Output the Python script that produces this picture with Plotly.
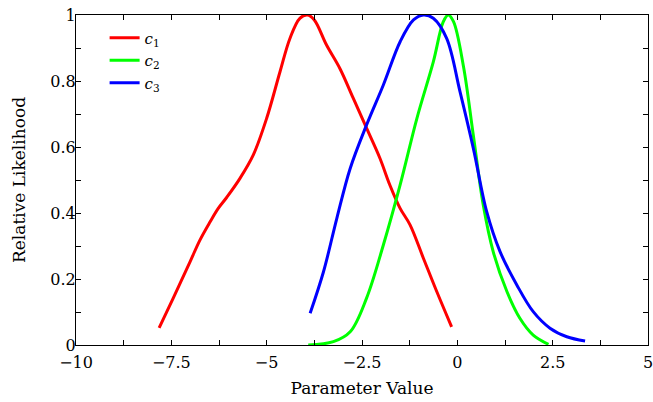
import plotly.graph_objects as go

c1_x = [-7.82, -7.45, -7.01, -6.75, -6.49, -6.27, -6.05, -5.70, -5.35, -5.00, -4.65, -4.39, -4.13, -3.93, -3.75, -3.43, -3.08, -2.73, -2.38, -2.03, -1.77, -1.50, -1.24, -0.89, -0.54, -0.15]
c1_y = [0.052, 0.142, 0.252, 0.318, 0.372, 0.414, 0.447, 0.505, 0.576, 0.687, 0.828, 0.929, 0.99, 1.0, 0.985, 0.909, 0.838, 0.748, 0.657, 0.566, 0.485, 0.414, 0.364, 0.263, 0.162, 0.055]

c2_x = [-3.91, -3.25, -2.81, -2.38, -1.94, -1.50, -1.06, -0.63, -0.37, -0.24, -0.10, 0.16, 0.42, 0.68, 0.94, 1.30, 1.64, 1.99, 2.39]
c2_y = [0.0, 0.010, 0.040, 0.142, 0.303, 0.485, 0.687, 0.858, 0.979, 1.0, 0.98, 0.845, 0.635, 0.424, 0.283, 0.162, 0.081, 0.030, 0.002]

c3_x = [-3.86, -3.51, -3.16, -2.81, -2.38, -1.94, -1.50, -1.15, -0.89, -0.63, -0.28, 0.07, 0.42, 0.77, 1.12, 1.56, 1.99, 2.43, 2.87, 3.35]
c3_y = [0.096, 0.222, 0.384, 0.535, 0.667, 0.788, 0.919, 0.985, 1.0, 0.99, 0.929, 0.768, 0.596, 0.404, 0.283, 0.182, 0.101, 0.051, 0.025, 0.012]

series = [
    ("<i>c</i><sub>1</sub>", c1_x, c1_y, "#ff0000"),
    ("<i>c</i><sub>2</sub>", c2_x, c2_y, "#00ff00"),
    ("<i>c</i><sub>3</sub>", c3_x, c3_y, "#0000ff"),
]

x_ticks = [-10, -7.5, -5, -2.5, 0, 2.5, 5]
x_ticklabels = ["\u221210", "\u22127.5", "\u22125", "\u22122.5", "0", "2.5", "5"]
y_ticks = [0, 0.2, 0.4, 0.6, 0.8, 1]
y_ticklabels = ["0", "0.2", "0.4", "0.6", "0.8", "1"]

fig = go.Figure()
for name, xs, ys, col in series:
    fig.add_trace(go.Scatter(x=xs, y=ys, mode="lines", name=name,
                             line=dict(color=col, width=3, shape="spline", smoothing=1.0)))

font_family = "DejaVu Serif"
axis_common = dict(showline=True, linecolor="black", linewidth=1, mirror="allticks",
                   ticks="inside", ticklen=5, tickcolor="black", showgrid=False,
                   zeroline=False, automargin=False, ticklabeloverflow="allow",
                   tickfont=dict(size=16, color="black", family=font_family))

fig.update_xaxes(range=[-10, 5], tickvals=x_ticks, ticktext=x_ticklabels,
                 minor=dict(ticks="inside", ticklen=5, dtick=1.25, tick0=-10, tickcolor="black"),
                 ticklabelstandoff=3,
                 title=dict(text="Parameter Value", font=dict(size=17, color="black", family=font_family), standoff=10),
                 **axis_common)
fig.update_yaxes(range=[0, 1], tickvals=y_ticks, ticktext=y_ticklabels,
                 minor=dict(ticks="inside", ticklen=5, dtick=0.1, tick0=0, tickcolor="black"),
                 ticklabelstandoff=-4,
                 title=dict(text="Relative Likelihood", font=dict(size=17, color="black", family=font_family), standoff=20),
                 **axis_common)

fig.update_layout(
    width=653, height=402,
    margin=dict(l=76, r=5, t=15, b=57),
    paper_bgcolor="white", plot_bgcolor="white",
    font=dict(family=font_family, color="black"),
    legend=dict(x=0.05, y=0.98, xanchor="left", yanchor="top",
                bgcolor="rgba(0,0,0,0)", font=dict(size=15, family=font_family), tracegroupgap=0,
                itemwidth=30),
)

fig.write_html("out.html", config={"displayModeBar": False},
               post_script="document.body.style.margin='0';document.body.style.overflow='hidden';")
